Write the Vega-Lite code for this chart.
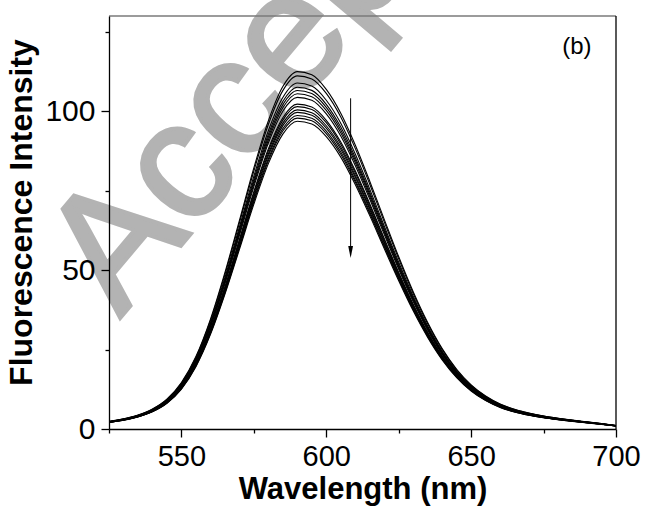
{
  "$schema": "https://vega.github.io/schema/vega-lite/v6.json",
  "width": 507,
  "height": 413,
  "autosize": {"type": "none"},
  "padding": {"left": 109, "top": 16, "right": 31, "bottom": 77},
  "background": "white",
  "config": {"view": {"stroke": null}, "font": "Liberation Sans"},
  "layer": [
    {
      "data": {"values": [{"label": "Accepted Manuscript"}]},
      "mark": {"type": "text", "font": "Liberation Sans", "fontSize": 166, "color": "#b3b3b3", "stroke": "#b3b3b3", "strokeWidth": 4, "align": "left", "baseline": "alphabetic", "angle": -50, "clip": false},
      "encoding": {"x": {"datum": 528.8}, "y": {"datum": 34.9}, "text": {"field": "label"}}
    },
    {
      "data": {
        "values": [
          {"w":525,"c01":2.4,"c02":2.37,"c03":2.32,"c04":2.29,"c05":2.27,"c06":2.25,"c07":2.23,"c08":2.18,"c09":2.16,"c10":2.14,"c11":2.13,"c12":2.1,"c13":2.09,"c14":2.07},
          {"w":530,"c01":3.2,"c02":3.16,"c03":3.1,"c04":3.06,"c05":3.03,"c06":3.0,"c07":2.97,"c08":2.91,"c09":2.89,"c10":2.86,"c11":2.84,"c12":2.81,"c13":2.78,"c14":2.76},
          {"w":535,"c01":4.4,"c02":4.35,"c03":4.26,"c04":4.21,"c05":4.17,"c06":4.13,"c07":4.08,"c08":4.0,"c09":3.97,"c10":3.93,"c11":3.9,"c12":3.86,"c13":3.83,"c14":3.79},
          {"w":540,"c01":6.3,"c02":6.22,"c03":6.1,"c04":6.02,"c05":5.97,"c06":5.91,"c07":5.85,"c08":5.73,"c09":5.68,"c10":5.63,"c11":5.58,"c12":5.52,"c13":5.48,"c14":5.42},
          {"w":545,"c01":9.4,"c02":9.29,"c03":9.1,"c04":8.99,"c05":8.9,"c06":8.82,"c07":8.72,"c08":8.55,"c09":8.48,"c10":8.39,"c11":8.33,"c12":8.24,"c13":8.18,"c14":8.09},
          {"w":550,"c01":14.6,"c02":14.42,"c03":14.13,"c04":13.96,"c05":13.83,"c06":13.69,"c07":13.55,"c08":13.27,"c09":13.17,"c10":13.04,"c11":12.94,"c12":12.8,"c13":12.7,"c14":12.57},
          {"w":555,"c01":22.8,"c02":22.53,"c03":22.07,"c04":21.8,"c05":21.59,"c06":21.39,"c07":21.16,"c08":20.73,"c09":20.57,"c10":20.36,"c11":20.2,"c12":20.0,"c13":19.84,"c14":19.63},
          {"w":560,"c01":34.5,"c02":34.09,"c03":33.4,"c04":32.98,"c05":32.67,"c06":32.36,"c07":32.02,"c08":31.36,"c09":31.12,"c10":30.81,"c11":30.57,"c12":30.26,"c13":30.02,"c14":29.7},
          {"w":565,"c01":49.2,"c02":48.61,"c03":47.63,"c04":47.04,"c05":46.59,"c06":46.15,"c07":45.66,"c08":44.72,"c09":44.38,"c10":43.94,"c11":43.59,"c12":43.15,"c13":42.8,"c14":42.36},
          {"w":570,"c01":65.6,"c02":64.81,"c03":63.5,"c04":62.71,"c05":62.12,"c06":61.53,"c07":60.88,"c08":59.63,"c09":59.17,"c10":58.58,"c11":58.14,"c12":57.53,"c13":57.07,"c14":56.48},
          {"w":575,"c01":82.2,"c02":81.21,"c03":79.57,"c04":78.58,"c05":77.84,"c06":77.1,"c07":76.28,"c08":74.72,"c09":74.14,"c10":73.4,"c11":72.85,"c12":72.09,"c13":71.51,"c14":70.77},
          {"w":580,"c01":97.0,"c02":95.84,"c03":93.9,"c04":92.73,"c05":91.86,"c06":90.99,"c07":90.02,"c08":88.17,"c09":87.49,"c10":86.62,"c11":85.97,"c12":85.07,"c13":84.39,"c14":83.52},
          {"w":585,"c01":107.8,"c02":106.51,"c03":104.35,"c04":103.06,"c05":102.09,"c06":101.12,"c07":100.04,"c08":97.99,"c09":97.24,"c10":96.27,"c11":95.51,"c12":94.54,"c13":93.79,"c14":92.82},
          {"w":590,"c01":112.5,"c02":111.15,"c03":108.9,"c04":107.55,"c05":106.54,"c06":105.52,"c07":104.4,"c08":102.26,"c09":101.47,"c10":100.46,"c11":99.67,"c12":98.66,"c13":97.87,"c14":96.86},
          {"w":595,"c01":111.5,"c02":110.16,"c03":107.93,"c04":106.59,"c05":105.59,"c06":104.59,"c07":103.47,"c08":101.35,"c09":100.57,"c10":99.57,"c11":98.79,"c12":97.79,"c13":97.0,"c14":96.0},
          {"w":600,"c01":106.9,"c02":105.62,"c03":103.48,"c04":102.2,"c05":101.23,"c06":100.27,"c07":99.2,"c08":97.17,"c09":96.42,"c10":95.46,"c11":94.71,"c12":93.75,"c13":93.0,"c14":92.04},
          {"w":605,"c01":99.4,"c02":98.21,"c03":96.22,"c04":95.03,"c05":94.13,"c06":93.24,"c07":92.24,"c08":90.35,"c09":89.66,"c10":88.76,"c11":88.07,"c12":87.17,"c13":86.48,"c14":85.58},
          {"w":610,"c01":89.4,"c02":88.33,"c03":86.54,"c04":85.47,"c05":84.66,"c06":83.86,"c07":82.96,"c08":81.26,"c09":80.64,"c10":79.83,"c11":79.21,"c12":78.4,"c13":77.78,"c14":76.97},
          {"w":615,"c01":78.0,"c02":77.06,"c03":75.5,"c04":74.57,"c05":73.87,"c06":73.16,"c07":72.38,"c08":70.9,"c09":70.36,"c10":69.65,"c11":69.11,"c12":68.41,"c13":67.86,"c14":67.16},
          {"w":620,"c01":66.0,"c02":65.21,"c03":63.89,"c04":63.1,"c05":62.5,"c06":61.91,"c07":61.25,"c08":60.0,"c09":59.53,"c10":58.94,"c11":58.48,"c12":57.88,"c13":57.42,"c14":56.83},
          {"w":625,"c01":54.2,"c02":53.55,"c03":52.47,"c04":51.82,"c05":51.33,"c06":50.84,"c07":50.3,"c08":49.27,"c09":48.89,"c10":48.4,"c11":48.02,"c12":47.53,"c13":47.15,"c14":46.67},
          {"w":630,"c01":43.2,"c02":42.68,"c03":41.82,"c04":41.3,"c05":40.91,"c06":40.52,"c07":40.09,"c08":39.27,"c09":38.97,"c10":38.58,"c11":38.28,"c12":37.89,"c13":37.58,"c14":37.2},
          {"w":635,"c01":33.5,"c02":33.1,"c03":32.43,"c04":32.03,"c05":31.72,"c06":31.42,"c07":31.09,"c08":30.45,"c09":30.22,"c10":29.92,"c11":29.69,"c12":29.38,"c13":29.15,"c14":28.84},
          {"w":640,"c01":25.3,"c02":25.0,"c03":24.49,"c04":24.19,"c05":23.96,"c06":23.73,"c07":23.48,"c08":23.0,"c09":22.82,"c10":22.59,"c11":22.42,"c12":22.19,"c13":22.01,"c14":21.78},
          {"w":645,"c01":18.8,"c02":18.57,"c03":18.2,"c04":17.97,"c05":17.8,"c06":17.63,"c07":17.45,"c08":17.09,"c09":16.96,"c10":16.79,"c11":16.66,"c12":16.49,"c13":16.36,"c14":16.19},
          {"w":650,"c01":13.9,"c02":13.73,"c03":13.46,"c04":13.29,"c05":13.16,"c06":13.04,"c07":12.9,"c08":12.64,"c09":12.54,"c10":12.41,"c11":12.32,"c12":12.19,"c13":12.09,"c14":11.97},
          {"w":655,"c01":10.4,"c02":10.28,"c03":10.07,"c04":9.94,"c05":9.85,"c06":9.76,"c07":9.65,"c08":9.45,"c09":9.38,"c10":9.29,"c11":9.22,"c12":9.12,"c13":9.05,"c14":8.95},
          {"w":660,"c01":7.9,"c02":7.81,"c03":7.65,"c04":7.55,"c05":7.48,"c06":7.41,"c07":7.33,"c08":7.18,"c09":7.13,"c10":7.05,"c11":7.0,"c12":6.93,"c13":6.87,"c14":6.8},
          {"w":665,"c01":6.2,"c02":6.13,"c03":6.0,"c04":5.93,"c05":5.87,"c06":5.82,"c07":5.75,"c08":5.64,"c09":5.59,"c10":5.54,"c11":5.49,"c12":5.44,"c13":5.39,"c14":5.34},
          {"w":670,"c01":5.0,"c02":4.94,"c03":4.84,"c04":4.78,"c05":4.74,"c06":4.69,"c07":4.64,"c08":4.55,"c09":4.51,"c10":4.47,"c11":4.43,"c12":4.39,"c13":4.35,"c14":4.31},
          {"w":675,"c01":4.1,"c02":4.05,"c03":3.97,"c04":3.92,"c05":3.88,"c06":3.85,"c07":3.8,"c08":3.73,"c09":3.7,"c10":3.66,"c11":3.63,"c12":3.6,"c13":3.57,"c14":3.53},
          {"w":680,"c01":3.4,"c02":3.36,"c03":3.29,"c04":3.25,"c05":3.22,"c06":3.19,"c07":3.16,"c08":3.09,"c09":3.07,"c10":3.04,"c11":3.01,"c12":2.98,"c13":2.96,"c14":2.93},
          {"w":685,"c01":2.8,"c02":2.77,"c03":2.71,"c04":2.68,"c05":2.65,"c06":2.63,"c07":2.6,"c08":2.55,"c09":2.53,"c10":2.5,"c11":2.48,"c12":2.46,"c13":2.44,"c14":2.41},
          {"w":690,"c01":2.25,"c02":2.22,"c03":2.18,"c04":2.15,"c05":2.13,"c06":2.11,"c07":2.09,"c08":2.05,"c09":2.03,"c10":2.01,"c11":1.99,"c12":1.97,"c13":1.96,"c14":1.94},
          {"w":695,"c01":1.7,"c02":1.68,"c03":1.65,"c04":1.63,"c05":1.61,"c06":1.59,"c07":1.58,"c08":1.55,"c09":1.53,"c10":1.52,"c11":1.51,"c12":1.49,"c13":1.48,"c14":1.46},
          {"w":700,"c01":1.1,"c02":1.09,"c03":1.06,"c04":1.05,"c05":1.04,"c06":1.03,"c07":1.02,"c08":1.0,"c09":0.99,"c10":0.98,"c11":0.97,"c12":0.96,"c13":0.96,"c14":0.95}
        ]
      },
      "transform": [
        {"fold": ["c01","c02","c03","c04","c05","c06","c07","c08","c09","c10","c11","c12","c13","c14"], "as": ["curve", "intensity"]}
      ],
      "mark": {"type": "line", "color": "black", "strokeWidth": 1.1, "interpolate": "monotone", "clip": true},
      "encoding": {
        "x": {
          "field": "w", "type": "quantitative",
          "scale": {"domain": [525, 700], "nice": false, "zero": false},
          "axis": {
            "title": "Wavelength (nm)",
            "zindex": 1,
            "values": [525, 550, 575, 600, 625, 650, 675, 700],
            "labelExpr": "datum.value % 50 === 0 ? datum.label : ''",
            "tickSize": {"condition": {"test": "datum.value % 50 === 0", "value": 8}, "value": 4},
            "grid": false,
            "labelFlush": false,
            "labelOverlap": false,
            "labelFont": "Liberation Sans",
            "labelFontSize": 29,
            "labelColor": "black",
            "labelPadding": 5,
            "titleFont": "Liberation Sans",
            "titleFontSize": 31,
            "titleFontWeight": "bold",
            "titleColor": "black",
            "titlePadding": 3,
            "domainColor": "black",
            "domainWidth": 1.3,
            "tickColor": "black",
            "tickWidth": 1.3
          }
        },
        "y": {
          "field": "intensity", "type": "quantitative",
          "scale": {"domain": [0, 130], "nice": false},
          "axis": {
            "title": "Fluorescence Intensity",
            "zindex": 1,
            "values": [0, 25, 50, 75, 100, 125],
            "labelExpr": "datum.value % 50 === 0 ? datum.label : ''",
            "tickSize": {"condition": {"test": "datum.value % 50 === 0", "value": 8}, "value": 4},
            "grid": false,
            "labelFlush": false,
            "labelOverlap": false,
            "labelFont": "Liberation Sans",
            "labelFontSize": 30,
            "labelColor": "black",
            "labelPadding": 6,
            "titleFont": "Liberation Sans",
            "titleFontSize": 32,
            "titleFontWeight": "bold",
            "titleColor": "black",
            "titlePadding": 6,
            "titleY": 196,
            "domainColor": "black",
            "domainWidth": 1.3,
            "tickColor": "black",
            "tickWidth": 1.3
          }
        },
        "detail": {"field": "curve", "type": "nominal"}
      }
    },
    {
      "data": {"values": [{}]},
      "mark": {"type": "rule", "color": "#7a7a7a", "strokeWidth": 1.5},
      "encoding": {"y": {"datum": 130}}
    },
    {
      "data": {"values": [{}]},
      "mark": {"type": "rule", "color": "black", "strokeWidth": 1.3},
      "encoding": {"x": {"datum": 700}}
    },
    {
      "data": {"values": [{}]},
      "mark": {"type": "rule", "color": "black", "strokeWidth": 1},
      "encoding": {"x": {"datum": 608.4}, "y": {"datum": 104.1}, "y2": {"datum": 56}}
    },
    {
      "data": {"values": [{}]},
      "mark": {"type": "point", "shape": "M-0.4,-1L0.4,-1L0,1Z", "filled": true, "color": "black", "size": 144, "opacity": 1},
      "encoding": {"x": {"datum": 608.4}, "y": {"datum": 55.7}}
    },
    {
      "data": {"values": [{}]},
      "mark": {"type": "text", "text": "(b)", "font": "Liberation Sans", "fontSize": 24, "color": "black", "align": "center", "baseline": "middle"},
      "encoding": {"x": {"datum": 686.5}, "y": {"datum": 120.3}}
    }
  ]
}
